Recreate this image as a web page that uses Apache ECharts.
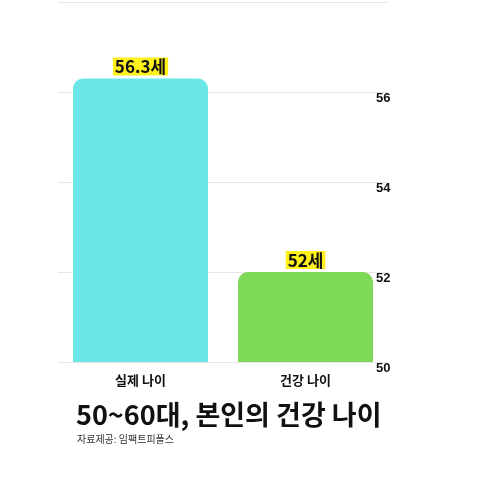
<!DOCTYPE html>
<html><head><meta charset="utf-8">
<script src="https://cdn.jsdelivr.net/npm/echarts@6/dist/echarts.min.js"></script>
<style>body{margin:0}#c{width:480px;height:480px}</style></head>
<body><div id="c"></div>
<script>
const categories=['실제 나이','건강 나이'];
const values=[56.3,52];
const labels=['56.3세','52세'];
const colors=['#6de6ea','#7ed957'];
const ch=echarts.init(document.getElementById('c'));
ch.setOption({
  animation:false,
  grid:{left:58,right:92,top:2,bottom:118},
  xAxis:{type:'category',data:categories,axisLine:{show:false},axisTick:{show:false},
    axisLabel:{color:'#111',fontSize:13,fontWeight:'bold',margin:12,fontFamily:'Noto Sans CJK KR'}},
  yAxis:{type:'value',position:'right',min:50,max:58,interval:2,offset:-12,
    axisLabel:{color:'#111',fontSize:13,fontWeight:'bold',margin:0,verticalAlign:'top',formatter:v=>v==58?'':v},
    splitLine:{lineStyle:{color:'#e6e6e6'}}},
  series:[{type:'bar',barWidth:135,
    data:values.map((v,i)=>({value:v,itemStyle:{color:colors[i],borderRadius:[10,10,0,0]},
      label:{show:true,position:'top',formatter:labels[i],color:'#111',fontSize:17,fontWeight:'bold',
        backgroundColor:'#ffef1a',padding:[1,2,0,2],distance:3,fontFamily:'Noto Sans CJK KR'}}))}],
  graphic:[
    {type:'text',left:76,top:401,style:{text:'50~60대, 본인의 건강 나이',fontSize:27,fontWeight:'bold',fill:'#111',fontFamily:'Noto Sans CJK KR'}},
    {type:'text',left:77,top:434,style:{text:'자료제공: 임팩트피플스',fontSize:10,fill:'#333',fontFamily:'Noto Sans CJK KR'}}
  ]
});
</script></body></html>
